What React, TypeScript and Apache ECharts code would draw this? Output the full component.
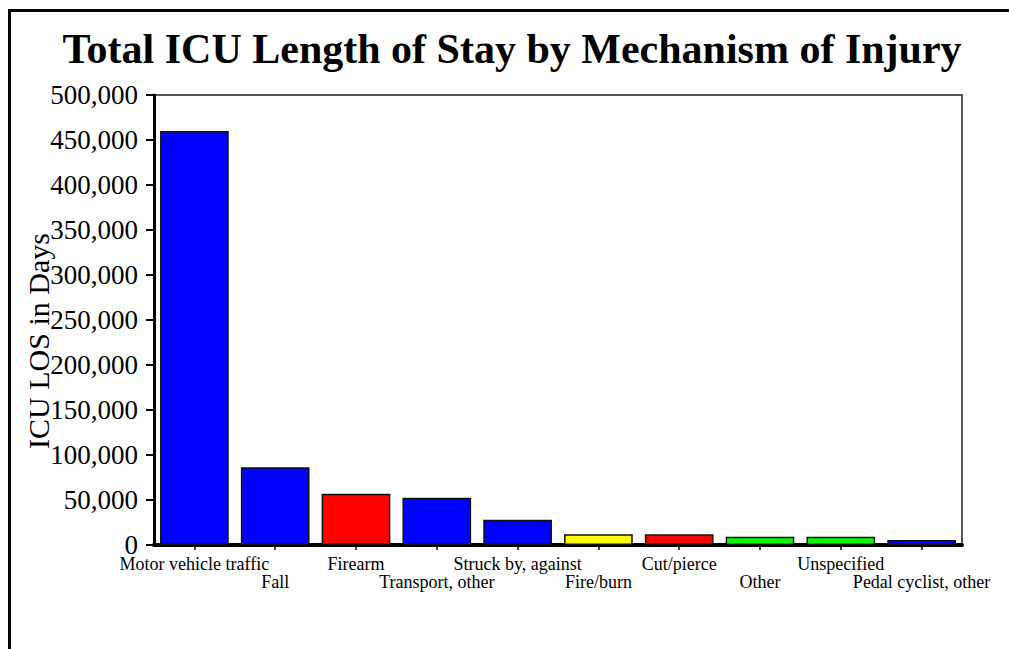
import React, { useEffect, useRef } from "react";
import * as echarts from "echarts";

const categories: string[] = [
  "Motor vehicle traffic",
  "Fall",
  "Firearm",
  "Transport, other",
  "Struck by, against",
  "Fire/burn",
  "Cut/pierce",
  "Other",
  "Unspecified",
  "Pedal cyclist, other",
];

const losDays: number[] = [460000, 86300, 57000, 52600, 28100, 11900, 11900, 9200, 9200, 5600];

const barColors: string[] = [
  "#0000FF",
  "#0000FF",
  "#FF0000",
  "#0000FF",
  "#0000FF",
  "#FFFF00",
  "#FF0000",
  "#00FF00",
  "#00FF00",
  "#0000FF",
];

const titleText = "Total ICU Length of Stay by Mechanism of Injury";
const yAxisName = "ICU LOS in Days";
const yMin = 0;
const yMax = 500000;
const yInterval = 50000;

const FONT = "'Liberation Serif', 'Times New Roman', serif";

export default function App() {
  const ref = useRef<HTMLDivElement>(null);

  useEffect(() => {
    if (!ref.current) return;
    const chart = echarts.init(ref.current, undefined, { renderer: "svg" });
    chart.setOption({
      animation: false,
      backgroundColor: "#fff",
      grid: {
        left: 154,
        right: 47,
        top: 95,
        bottom: 104,
        show: true,
        borderColor: "#222",
        borderWidth: 1.5,
        containLabel: false,
      },
      xAxis: {
        type: "category",
        data: categories,
        axisLine: { show: true, lineStyle: { color: "#000", width: 4, cap: "round" } },
        axisTick: { show: true, alignWithLabel: true, length: 5, lineStyle: { color: "#000", width: 1.5 } },
        axisLabel: {
          interval: 0,
          margin: 10,
          color: "#000",
          fontFamily: FONT,
          fontSize: 18,
          lineHeight: 18,
          formatter: (v: string, i: number) => (i % 2 === 1 ? "\n" + v : v),
        },
      },
      yAxis: {
        type: "value",
        min: yMin,
        max: yMax,
        interval: yInterval,
        splitLine: { show: false },
        axisLine: { show: true, lineStyle: { color: "#000", width: 3 } },
        axisTick: { show: true, length: 8, lineStyle: { color: "#000", width: 2 } },
        axisLabel: {
          margin: 16,
          color: "#000",
          fontFamily: FONT,
          fontSize: 27,
          lineHeight: 18,
          formatter: (v: number) => v.toLocaleString("en-US"),
        },
      },
      series: [
        {
          type: "bar",
          barCategoryGap: "15%",
          data: losDays.map((v, i) => ({
            value: v,
            itemStyle: { color: barColors[i], borderColor: "#111", borderWidth: 1.5 },
          })),
        },
      ],
      graphic: [
        {
          type: "rect",
          z: 100,
          silent: true,
          shape: { x: 9.5, y: 10.5, width: 1200, height: 900 },
          style: { fill: "none", stroke: "#000", lineWidth: 3 },
        },
        {
          type: "text",
          x: 512,
          y: 49,
          style: {
            text: titleText,
            fontFamily: FONT,
            fontSize: 42,
            fontWeight: "bold",
            fill: "#000",
            align: "center",
            verticalAlign: "middle",
          },
        },
        {
          type: "text",
          x: 38,
          y: 341,
          rotation: Math.PI / 2,
          style: {
            text: yAxisName,
            fontFamily: FONT,
            fontSize: 30,
            fill: "#000",
            align: "center",
            verticalAlign: "middle",
          },
        },
      ],
    });
    return () => chart.dispose();
  }, []);

  return (
    <div
      ref={ref}
      style={{ position: "absolute", left: 0, top: 0, width: 1009, height: 649 }}
    />
  );
}
